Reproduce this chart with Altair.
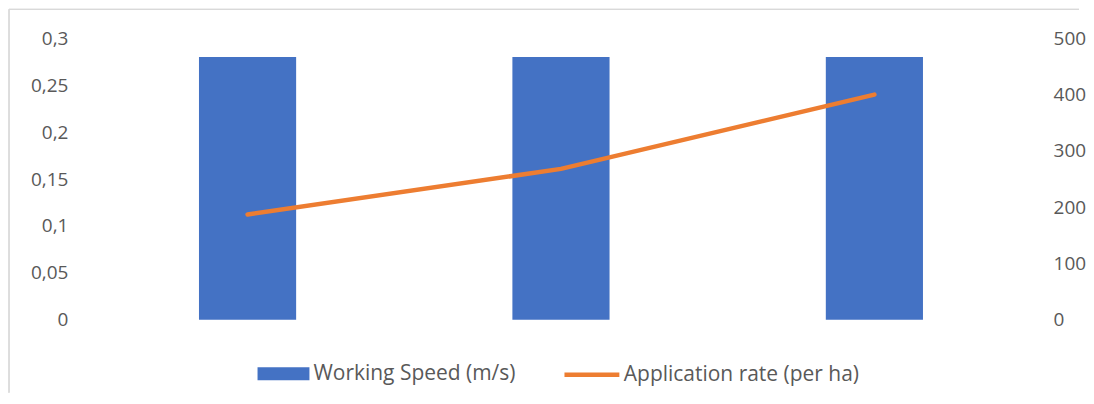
import altair as alt
import pandas as pd

categories = ["1", "2", "3"]
working_speed = [0.28, 0.28, 0.28]
application_rate = [187, 268, 400]
left_ticks = [0, 0.05, 0.1, 0.15, 0.2, 0.25, 0.3]
right_ticks = [0, 100, 200, 300, 400, 500]

df = pd.DataFrame({
    "cat": categories,
    "speed": working_speed,
    "rate": application_rate,
    "s1": ["Working Speed (m/s)"] * 3,
    "s2": ["Application rate (per ha)"] * 3,
})

FONT = "Open Sans"
GREY = "#595959"

x = alt.X("cat:N", axis=None, sort=categories,
          scale=alt.Scale(paddingInner=0.69, paddingOuter=0.345))

bars = alt.Chart(df).mark_bar(color="#4472C4").encode(
    x=x,
    y=alt.Y("speed:Q", scale=alt.Scale(domain=[0, 0.3], nice=False),
            axis=alt.Axis(orient="left", values=left_ticks, title=None, grid=False,
                          domain=False, ticks=False, labelPadding=23, format=".2~f",
                          labelExpr="replace(datum.label, '.', ',')",
                          minExtent=82, maxExtent=82)),
    color=alt.Color("s1:N", scale=alt.Scale(range=["#4472C4"]),
                    legend=alt.Legend(title=None, orient="none", legendX=179, legendY=322,
                                      symbolType="M-2,-0.5H2V0.5H-2Z", symbolSize=676,
                                      symbolOpacity=1, padding=0, labelOffset=16,
                                      labelLimit=400)),
)

line = alt.Chart(df).mark_line(strokeWidth=4.5, strokeCap="round").encode(
    x=x,
    y=alt.Y("rate:Q", scale=alt.Scale(domain=[0, 500], nice=False),
            axis=alt.Axis(orient="right", values=right_ticks, title=None, grid=False,
                          domain=False, ticks=False, labelPadding=22,
                          minExtent=50, maxExtent=50)),
    stroke=alt.Stroke("s2:N", scale=alt.Scale(range=["#ED7D31"]),
                      legend=alt.Legend(title=None, orient="none", legendX=486, legendY=321,
                                        symbolType="M-2,0H2", symbolSize=756,
                                        symbolStrokeWidth=4.5, padding=0, labelOffset=16,
                                        labelLimit=400)),
)

frame_left = alt.Chart(df).mark_rule(color="#d9d9d9", strokeWidth=1).encode(
    x=alt.value(-82), y=alt.value(-29), y2=alt.value(355))
frame_top = alt.Chart(df).mark_rule(color="#d9d9d9", strokeWidth=1).encode(
    x=alt.value(-82), x2=alt.value(990), y=alt.value(-29))

chart = alt.layer(frame_left, frame_top, bars, line).resolve_scale(
    y="independent", color="independent", stroke="independent"
).resolve_legend(color="independent", stroke="independent").properties(
    width=942, height=282,
    padding={"left": 0, "top": 0, "right": 0, "bottom": 0},
).configure_view(stroke=None).configure_axis(
    labelFont=FONT, labelFontSize=19, labelColor=GREY
).configure_legend(
    labelFont=FONT, labelFontSize=21, labelColor=GREY
)

chart.save("out.html", embed_options={"renderer": "svg", "actions": False})
